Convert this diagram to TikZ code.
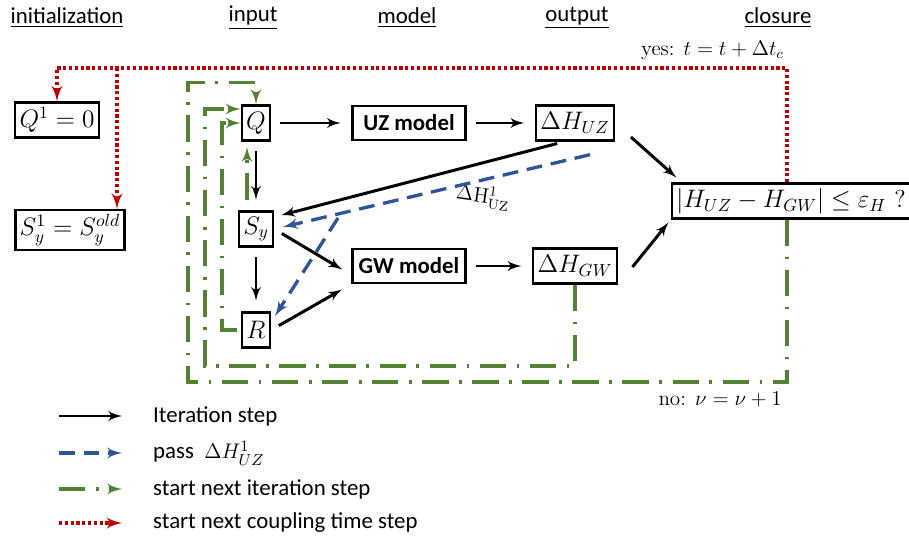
\documentclass[tikz,border=0pt]{standalone}
\usepackage{amsmath}
\usepackage{fontspec}
\newfontfamily\calib{Carlito}
\usetikzlibrary{arrows,calc}

\definecolor{itgreen}{RGB}{84,130,53}
\definecolor{passblue}{RGB}{47,85,151}
\definecolor{cpred}{RGB}{192,0,0}

\begin{document}
\begin{tikzpicture}[x=0.02cm,y=-0.02cm,>=latex',
  box/.style={draw,line width=1.4pt,inner sep=2.5pt,minimum height=0.7cm,font=\fontsize{14}{17}\selectfont},
  modbox/.style={draw,line width=1.4pt,minimum width=2.26cm,minimum height=0.68cm,font=\calib\fontsize{13}{15}\selectfont\bfseries},
  head/.style={font=\calib\fontsize{13}{15}\selectfont},
  legtxt/.style={anchor=west,font=\calib\fontsize{13}{15}\selectfont},
  note/.style={font=\fontsize{12}{14}\selectfont},
  iter/.style={->,line width=1.7pt},
  gap/.style={shorten <=5pt,shorten >=6pt},
  pass/.style={->,line width=1.9pt,color=passblue,dash pattern=on 9pt off 5pt},
  nextit/.style={->,line width=1.9pt,color=itgreen,dash pattern=on 15pt off 6pt on 1.5pt off 6pt},
  nextcp/.style={->,line width=2pt,color=cpred,dash pattern=on 1.8pt off 1.5pt}]
\useasboundingbox (0,0) rectangle (909,536);

% column headings
\node[head] (hini) at (67,18) {\underline{initialization}};
\node[head] (hin) at (253,18) {\underline{input}};
\node[head] (hmod) at (407,18) {\underline{model}};
\node[head] (hout) at (577,18) {\underline{output}};
\node[head] (hclo) at (778,18) {\underline{closure}};

\node[box] (q1) at (57,120) {$Q^1=0$};
\node[box] (sy1) at (70,230) {$S_y^1=S_y^{old}$};
\node[box] (q) at (256,123) {$Q$};
\node[box] (sy) at (256,229) {$S_y$};
\node[box] (r) at (256,330) {$R$};
\node[modbox] (uz) at (409,123) {UZ model};
\node[modbox] (gw) at (409,266) {GW model};
\node[box] (huz) at (575,123) {$\Delta H_{UZ}$};
\node[box] (hgw) at (575,266) {$\Delta H_{GW}$};
\node[box,minimum width=4.6cm] (clo) at (791,201) {$|H_{UZ}-H_{GW}|\le\varepsilon_H$ ?};

\node[note,anchor=east] (yes) at (790,50) {yes: $t=t+\Delta t_c$};
\node[note,anchor=east] (no) at (788,400) {no: $\nu=\nu+1$};
\node[note,rotate=-8] (hlab) at (483,197) {$\Delta\mathrm{H}^1_{\mathrm{UZ}}$};

% iteration step
\draw[iter,gap] (q) -- (uz);
\draw[iter,gap] (uz) -- (huz);
\draw[iter,gap] (q) -- (sy);
\draw[iter,gap] (sy) -- (r);
\draw[iter,gap] (sy.east) -- ([yshift=-0.18cm]gw.west);
\draw[iter,gap] (r.east) -- (gw.south west);
\draw[iter,gap] (gw) -- (hgw);
\draw[iter,shorten <=12pt,shorten >=4pt] (huz.east) -- ([xshift=0.22cm]clo.north west);
\draw[iter,shorten <=13pt,shorten >=2pt] (hgw.south east) -- (clo.south west);
\draw[iter,shorten <=4pt,shorten >=4pt] ([xshift=-0.22cm]huz.south) -- ([yshift=0.24cm]sy.east);

% pass dH_UZ
\coordinate (bj) at (338,218);
\draw[pass,shorten >=5pt] ([xshift=0.3cm,yshift=-0.26cm]huz.south) -- (sy.east);
\draw[pass,shorten >=4pt] (bj) -- ([yshift=0.16cm]r.east);

% next iteration step
\coordinate (go1) at (188,382);
\coordinate (gm1) at (205,366);
\coordinate (gi1) at (222,330);
\draw[nextit] ([xshift=-0.08cm]clo.south) |- (go1) |- ($(q.north)+(0,-22)$) -- (q.north);
\draw[nextit] (hgw.south) |- (gm1) |- ([yshift=0.28cm]q.west);
\draw[nextit,shorten <=2pt] (r.west) -- (gi1) |- (q.west);
\draw[nextit,shorten <=6pt,shorten >=3pt] ([xshift=-0.18cm]sy.north) -- ([xshift=-0.18cm]q.south);

% next coupling time step
\coordinate (rt) at (117,68);
\draw[nextcp] ([xshift=-0.08cm]clo.north) |- (q1.north |- rt) -- (q1.north);
\draw[nextcp] (rt) -- (rt |- sy1.north);

% legend
\coordinate (la1) at (59,416); \coordinate (lb1) at (122,416);
\coordinate (la2) at (59,453); \coordinate (lb2) at (122,453);
\coordinate (la3) at (59,489); \coordinate (lb3) at (122,489);
\coordinate (la4) at (59,523); \coordinate (lb4) at (122,523);
\draw[iter] (la1) -- (lb1);
\draw[pass] (la2) -- (lb2);
\draw[nextit] (la3) -- (lb3);
\draw[nextcp] (la4) -- (lb4);
\node[legtxt] (lt1) at (147,416) {Iteration step};
\node[legtxt] (lt2) at (147,453) {pass \ $\Delta H^1_{UZ}$};
\node[legtxt] (lt3) at (147,489) {start next iteration step};
\node[legtxt] (lt4) at (147,523) {start next coupling time step};
\end{tikzpicture}
\end{document}
